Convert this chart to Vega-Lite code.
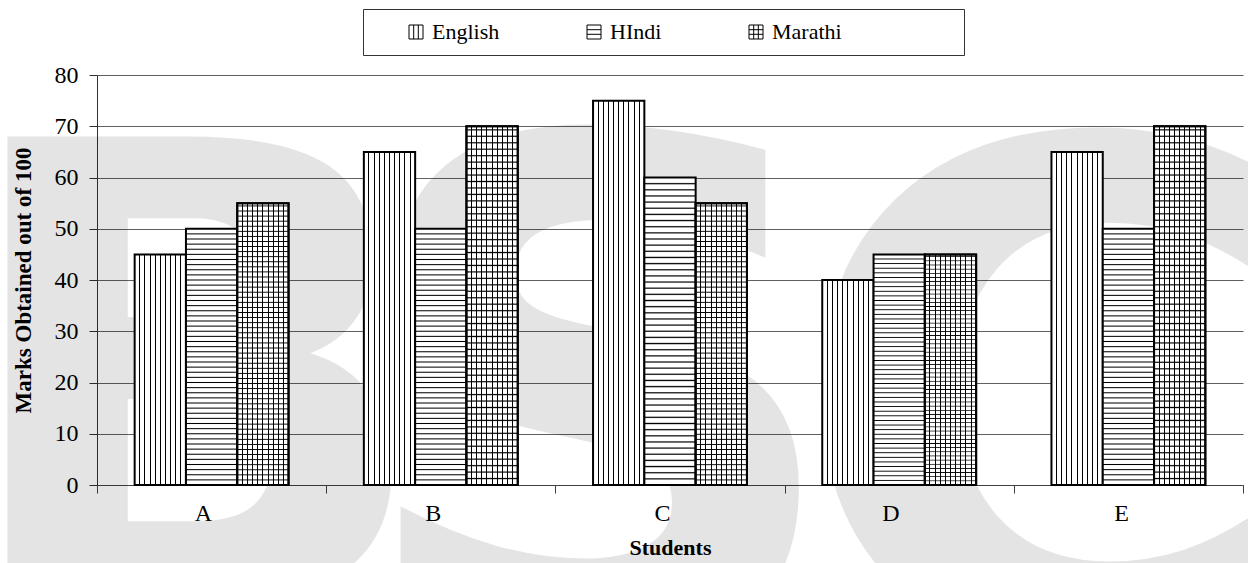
{
  "$schema": "https://vega.github.io/schema/vega-lite/v6.json",
  "autosize": "none",
  "width": 1146,
  "height": 410,
  "padding": {"left": 97, "top": 75, "right": 5, "bottom": 78},
  "background": "white",
  "config": {
    "font": "Liberation Serif",
    "view": {"stroke": null},
    "axis": {"labelFont": "Liberation Serif", "titleFont": "Liberation Serif", "labelColor": "#000", "titleColor": "#000"},
    "legend": {"labelFont": "Liberation Serif", "titleFont": "Liberation Serif"}
  },
  "data": {
    "values": [
      {"Student": "A", "Subject": "English", "Marks": 45},
      {"Student": "A", "Subject": "HIndi", "Marks": 50},
      {"Student": "A", "Subject": "Marathi", "Marks": 55},
      {"Student": "B", "Subject": "English", "Marks": 65},
      {"Student": "B", "Subject": "HIndi", "Marks": 50},
      {"Student": "B", "Subject": "Marathi", "Marks": 70},
      {"Student": "C", "Subject": "English", "Marks": 75},
      {"Student": "C", "Subject": "HIndi", "Marks": 60},
      {"Student": "C", "Subject": "Marathi", "Marks": 55},
      {"Student": "D", "Subject": "English", "Marks": 40},
      {"Student": "D", "Subject": "HIndi", "Marks": 45},
      {"Student": "D", "Subject": "Marathi", "Marks": 45},
      {"Student": "E", "Subject": "English", "Marks": 65},
      {"Student": "E", "Subject": "HIndi", "Marks": 50},
      {"Student": "E", "Subject": "Marathi", "Marks": 70}
    ]
  },
  "layer": [
    {
      "data": {"values": [{}]},
      "mark": {"type": "text", "text": "B", "font": "DejaVu Sans", "fontWeight": "bold", "fontSize": 640, "color": "#000", "opacity": 0.1, "align": "center", "baseline": "alphabetic", "dx": -19, "dy": 118},
      "encoding": {"x": {"datum": "A"}, "y": {"datum": 0}}
    },
    {
      "data": {"values": [{}]},
      "mark": {"type": "text", "text": "S", "font": "DejaVu Sans", "fontWeight": "bold", "fontSize": 700, "color": "#000", "opacity": 0.1, "align": "center", "baseline": "alphabetic", "dx": -72, "dy": 159},
      "encoding": {"x": {"datum": "C"}, "y": {"datum": 0}}
    },
    {
      "data": {"values": [{}]},
      "mark": {"type": "text", "text": "C", "font": "DejaVu Sans", "fontWeight": "bold", "fontSize": 700, "color": "#000", "opacity": 0.1, "align": "center", "baseline": "alphabetic", "dx": -85, "dy": 162},
      "encoding": {"x": {"datum": "E"}, "y": {"datum": 0}}
    },
    {
      "mark": {"type": "point", "opacity": 0, "color": "#000"},
      "encoding": {
        "x": {"field": "Student", "type": "nominal"},
        "y": {"field": "Marks", "type": "quantitative"},
        "shape": {
          "field": "Subject", "type": "nominal",
          "scale": {
            "domain": ["English", "HIndi", "Marathi", " "],
            "range": [
              "M-1,-1H1V1H-1Z M-0.33,-1V1 M0.33,-1V1",
              "M-1,-1H1V1H-1Z M-1,-0.33H1 M-1,0.33H1",
              "M-1,-1H1V1H-1Z M-0.33,-1V1 M0.33,-1V1 M-1,-0.33H1 M-1,0.33H1",
              "M0,0"
            ]
          },
          "legend": {
            "orient": "none",
            "legendX": 266,
            "legendY": -66,
            "direction": "horizontal",
            "columns": 4,
            "title": null,
            "padding": 12,
            "strokeColor": "#333",
            "symbolSize": 196,
            "symbolStrokeWidth": 1,
            "symbolStrokeColor": "#000",
            "symbolFillColor": "#fff",
            "symbolOffset": 30,
            "labelFont": "Liberation Serif",
            "labelFontSize": 22,
            "labelColor": "#000",
            "labelOffset": 5,
            "columnPadding": 53
          }
        }
      }
    },
    {
      "transform": [{"filter": "datum.Subject === 'English'"}],
      "mark": {
        "type": "bar", "stroke": "#000", "strokeWidth": 2,
        "fill": {
          "gradient": "linear", "x1": 0, "x2": 1, "y1": 0, "y2": 0,
          "stops": [
            {"offset": 0, "color": "#fff"},
            {"offset": 0.09, "color": "#fff"}, {"offset": 0.09, "color": "#000"}, {"offset": 0.11, "color": "#000"}, {"offset": 0.11, "color": "#fff"},
            {"offset": 0.19, "color": "#fff"}, {"offset": 0.19, "color": "#000"}, {"offset": 0.21, "color": "#000"}, {"offset": 0.21, "color": "#fff"},
            {"offset": 0.29, "color": "#fff"}, {"offset": 0.29, "color": "#000"}, {"offset": 0.31, "color": "#000"}, {"offset": 0.31, "color": "#fff"},
            {"offset": 0.39, "color": "#fff"}, {"offset": 0.39, "color": "#000"}, {"offset": 0.41, "color": "#000"}, {"offset": 0.41, "color": "#fff"},
            {"offset": 0.49, "color": "#fff"}, {"offset": 0.49, "color": "#000"}, {"offset": 0.51, "color": "#000"}, {"offset": 0.51, "color": "#fff"},
            {"offset": 0.59, "color": "#fff"}, {"offset": 0.59, "color": "#000"}, {"offset": 0.61, "color": "#000"}, {"offset": 0.61, "color": "#fff"},
            {"offset": 0.69, "color": "#fff"}, {"offset": 0.69, "color": "#000"}, {"offset": 0.71, "color": "#000"}, {"offset": 0.71, "color": "#fff"},
            {"offset": 0.79, "color": "#fff"}, {"offset": 0.79, "color": "#000"}, {"offset": 0.81, "color": "#000"}, {"offset": 0.81, "color": "#fff"},
            {"offset": 0.89, "color": "#fff"}, {"offset": 0.89, "color": "#000"}, {"offset": 0.91, "color": "#000"}, {"offset": 0.91, "color": "#fff"},
            {"offset": 1, "color": "#fff"}
          ]
        }
      },
      "encoding": {
        "x": {
          "field": "Student", "type": "nominal",
          "scale": {"domain": ["A", "B", "C", "D", "E"], "paddingInner": 0, "paddingOuter": 0},
          "axis": {
            "title": "Students", "titleFont": "Liberation Serif", "titleFontSize": 22, "titleFontWeight": "bold", "titlePadding": 12,
            "labelAngle": 0, "labelFont": "Liberation Serif", "labelFontSize": 24, "labelPadding": 20,
            "tickBand": "extent", "tickSize": 8, "tickColor": "#404040", "domainColor": "#404040", "grid": false
          }
        },
        "xOffset": {"field": "Subject", "type": "nominal", "scale": {"domain": ["English", "HIndi", "Marathi"], "paddingInner": 0, "paddingOuter": 0.734}},
        "y": {
          "field": "Marks", "type": "quantitative",
          "scale": {"domain": [0, 80], "nice": false},
          "axis": {
            "title": "Marks Obtained out of 100", "titleFont": "Liberation Serif", "titleFontSize": 23, "titleFontWeight": "bold", "titlePadding": 19,
            "values": [0, 10, 20, 30, 40, 50, 60, 70, 80],
            "labelFont": "Liberation Serif", "labelFontSize": 24, "labelPadding": 11, "tickSize": 8, "tickColor": "#303030", "domainColor": "#303030",
            "grid": true, "gridColor": "#606060", "gridWidth": 1
          }
        }
      }
    },
    {
      "transform": [{"filter": "datum.Subject === 'HIndi'"}],
      "mark": {
        "type": "bar", "stroke": "#000", "strokeWidth": 2,
        "fill": {
          "gradient": "linear", "x1": 0, "x2": 0, "y1": 1, "y2": 0,
          "stops": [
            {"offset": 0, "color": "#fff"},
            {"offset": 0.016, "color": "#fff"}, {"offset": 0.02, "color": "#000"}, {"offset": 0.024, "color": "#fff"},
            {"offset": 0.036, "color": "#fff"}, {"offset": 0.04, "color": "#000"}, {"offset": 0.044, "color": "#fff"},
            {"offset": 0.056, "color": "#fff"}, {"offset": 0.06, "color": "#000"}, {"offset": 0.064, "color": "#fff"},
            {"offset": 0.076, "color": "#fff"}, {"offset": 0.08, "color": "#000"}, {"offset": 0.084, "color": "#fff"},
            {"offset": 0.096, "color": "#fff"}, {"offset": 0.1, "color": "#000"}, {"offset": 0.104, "color": "#fff"},
            {"offset": 0.116, "color": "#fff"}, {"offset": 0.12, "color": "#000"}, {"offset": 0.124, "color": "#fff"},
            {"offset": 0.136, "color": "#fff"}, {"offset": 0.14, "color": "#000"}, {"offset": 0.144, "color": "#fff"},
            {"offset": 0.156, "color": "#fff"}, {"offset": 0.16, "color": "#000"}, {"offset": 0.164, "color": "#fff"},
            {"offset": 0.176, "color": "#fff"}, {"offset": 0.18, "color": "#000"}, {"offset": 0.184, "color": "#fff"},
            {"offset": 0.196, "color": "#fff"}, {"offset": 0.2, "color": "#000"}, {"offset": 0.204, "color": "#fff"},
            {"offset": 0.216, "color": "#fff"}, {"offset": 0.22, "color": "#000"}, {"offset": 0.224, "color": "#fff"},
            {"offset": 0.236, "color": "#fff"}, {"offset": 0.24, "color": "#000"}, {"offset": 0.244, "color": "#fff"},
            {"offset": 0.256, "color": "#fff"}, {"offset": 0.26, "color": "#000"}, {"offset": 0.264, "color": "#fff"},
            {"offset": 0.276, "color": "#fff"}, {"offset": 0.28, "color": "#000"}, {"offset": 0.284, "color": "#fff"},
            {"offset": 0.296, "color": "#fff"}, {"offset": 0.3, "color": "#000"}, {"offset": 0.304, "color": "#fff"},
            {"offset": 0.316, "color": "#fff"}, {"offset": 0.32, "color": "#000"}, {"offset": 0.324, "color": "#fff"},
            {"offset": 0.336, "color": "#fff"}, {"offset": 0.34, "color": "#000"}, {"offset": 0.344, "color": "#fff"},
            {"offset": 0.356, "color": "#fff"}, {"offset": 0.36, "color": "#000"}, {"offset": 0.364, "color": "#fff"},
            {"offset": 0.376, "color": "#fff"}, {"offset": 0.38, "color": "#000"}, {"offset": 0.384, "color": "#fff"},
            {"offset": 0.396, "color": "#fff"}, {"offset": 0.4, "color": "#000"}, {"offset": 0.404, "color": "#fff"},
            {"offset": 0.416, "color": "#fff"}, {"offset": 0.42, "color": "#000"}, {"offset": 0.424, "color": "#fff"},
            {"offset": 0.436, "color": "#fff"}, {"offset": 0.44, "color": "#000"}, {"offset": 0.444, "color": "#fff"},
            {"offset": 0.456, "color": "#fff"}, {"offset": 0.46, "color": "#000"}, {"offset": 0.464, "color": "#fff"},
            {"offset": 0.476, "color": "#fff"}, {"offset": 0.48, "color": "#000"}, {"offset": 0.484, "color": "#fff"},
            {"offset": 0.496, "color": "#fff"}, {"offset": 0.5, "color": "#000"}, {"offset": 0.504, "color": "#fff"},
            {"offset": 0.516, "color": "#fff"}, {"offset": 0.52, "color": "#000"}, {"offset": 0.524, "color": "#fff"},
            {"offset": 0.536, "color": "#fff"}, {"offset": 0.54, "color": "#000"}, {"offset": 0.544, "color": "#fff"},
            {"offset": 0.556, "color": "#fff"}, {"offset": 0.56, "color": "#000"}, {"offset": 0.564, "color": "#fff"},
            {"offset": 0.576, "color": "#fff"}, {"offset": 0.58, "color": "#000"}, {"offset": 0.584, "color": "#fff"},
            {"offset": 0.596, "color": "#fff"}, {"offset": 0.6, "color": "#000"}, {"offset": 0.604, "color": "#fff"},
            {"offset": 0.616, "color": "#fff"}, {"offset": 0.62, "color": "#000"}, {"offset": 0.624, "color": "#fff"},
            {"offset": 0.636, "color": "#fff"}, {"offset": 0.64, "color": "#000"}, {"offset": 0.644, "color": "#fff"},
            {"offset": 0.656, "color": "#fff"}, {"offset": 0.66, "color": "#000"}, {"offset": 0.664, "color": "#fff"},
            {"offset": 0.676, "color": "#fff"}, {"offset": 0.68, "color": "#000"}, {"offset": 0.684, "color": "#fff"},
            {"offset": 0.696, "color": "#fff"}, {"offset": 0.7, "color": "#000"}, {"offset": 0.704, "color": "#fff"},
            {"offset": 0.716, "color": "#fff"}, {"offset": 0.72, "color": "#000"}, {"offset": 0.724, "color": "#fff"},
            {"offset": 0.736, "color": "#fff"}, {"offset": 0.74, "color": "#000"}, {"offset": 0.744, "color": "#fff"},
            {"offset": 0.756, "color": "#fff"}, {"offset": 0.76, "color": "#000"}, {"offset": 0.764, "color": "#fff"},
            {"offset": 0.776, "color": "#fff"}, {"offset": 0.78, "color": "#000"}, {"offset": 0.784, "color": "#fff"},
            {"offset": 0.796, "color": "#fff"}, {"offset": 0.8, "color": "#000"}, {"offset": 0.804, "color": "#fff"},
            {"offset": 0.816, "color": "#fff"}, {"offset": 0.82, "color": "#000"}, {"offset": 0.824, "color": "#fff"},
            {"offset": 0.836, "color": "#fff"}, {"offset": 0.84, "color": "#000"}, {"offset": 0.844, "color": "#fff"},
            {"offset": 0.856, "color": "#fff"}, {"offset": 0.86, "color": "#000"}, {"offset": 0.864, "color": "#fff"},
            {"offset": 0.876, "color": "#fff"}, {"offset": 0.88, "color": "#000"}, {"offset": 0.884, "color": "#fff"},
            {"offset": 0.896, "color": "#fff"}, {"offset": 0.9, "color": "#000"}, {"offset": 0.904, "color": "#fff"},
            {"offset": 0.916, "color": "#fff"}, {"offset": 0.92, "color": "#000"}, {"offset": 0.924, "color": "#fff"},
            {"offset": 0.936, "color": "#fff"}, {"offset": 0.94, "color": "#000"}, {"offset": 0.944, "color": "#fff"},
            {"offset": 0.956, "color": "#fff"}, {"offset": 0.96, "color": "#000"}, {"offset": 0.964, "color": "#fff"},
            {"offset": 0.976, "color": "#fff"}, {"offset": 0.98, "color": "#000"}, {"offset": 0.984, "color": "#fff"},
            {"offset": 1, "color": "#fff"}
          ]
        }
      },
      "encoding": {
        "x": {"field": "Student", "type": "nominal"},
        "xOffset": {"field": "Subject", "type": "nominal"},
        "y": {"field": "Marks", "type": "quantitative"}
      }
    },
    {
      "transform": [{"filter": "datum.Subject === 'Marathi'"}],
      "mark": {
        "type": "bar", "stroke": "#000", "strokeWidth": 2,
        "fill": {
          "gradient": "linear", "x1": 0, "x2": 1, "y1": 0, "y2": 0,
          "stops": [
            {"offset": 0, "color": "#fff"},
            {"offset": 0.09, "color": "#fff"}, {"offset": 0.09, "color": "#000"}, {"offset": 0.11, "color": "#000"}, {"offset": 0.11, "color": "#fff"},
            {"offset": 0.19, "color": "#fff"}, {"offset": 0.19, "color": "#000"}, {"offset": 0.21, "color": "#000"}, {"offset": 0.21, "color": "#fff"},
            {"offset": 0.29, "color": "#fff"}, {"offset": 0.29, "color": "#000"}, {"offset": 0.31, "color": "#000"}, {"offset": 0.31, "color": "#fff"},
            {"offset": 0.39, "color": "#fff"}, {"offset": 0.39, "color": "#000"}, {"offset": 0.41, "color": "#000"}, {"offset": 0.41, "color": "#fff"},
            {"offset": 0.49, "color": "#fff"}, {"offset": 0.49, "color": "#000"}, {"offset": 0.51, "color": "#000"}, {"offset": 0.51, "color": "#fff"},
            {"offset": 0.59, "color": "#fff"}, {"offset": 0.59, "color": "#000"}, {"offset": 0.61, "color": "#000"}, {"offset": 0.61, "color": "#fff"},
            {"offset": 0.69, "color": "#fff"}, {"offset": 0.69, "color": "#000"}, {"offset": 0.71, "color": "#000"}, {"offset": 0.71, "color": "#fff"},
            {"offset": 0.79, "color": "#fff"}, {"offset": 0.79, "color": "#000"}, {"offset": 0.81, "color": "#000"}, {"offset": 0.81, "color": "#fff"},
            {"offset": 0.89, "color": "#fff"}, {"offset": 0.89, "color": "#000"}, {"offset": 0.91, "color": "#000"}, {"offset": 0.91, "color": "#fff"},
            {"offset": 1, "color": "#fff"}
          ]
        }
      },
      "encoding": {
        "x": {"field": "Student", "type": "nominal"},
        "xOffset": {"field": "Subject", "type": "nominal"},
        "y": {"field": "Marks", "type": "quantitative"}
      }
    },
    {
      "transform": [{"filter": "datum.Subject === 'Marathi'"}],
      "mark": {
        "type": "bar", "stroke": "#000", "strokeWidth": 2,
        "fill": {
          "gradient": "linear", "x1": 0, "x2": 0, "y1": 1, "y2": 0,
          "stops": [
            {"offset": 0, "color": "rgba(0,0,0,0)"},
            {"offset": 0.0147, "color": "rgba(0,0,0,0)"}, {"offset": 0.018, "color": "#000"}, {"offset": 0.0213, "color": "rgba(0,0,0,0)"},
            {"offset": 0.0327, "color": "rgba(0,0,0,0)"}, {"offset": 0.036, "color": "#000"}, {"offset": 0.0393, "color": "rgba(0,0,0,0)"},
            {"offset": 0.0507, "color": "rgba(0,0,0,0)"}, {"offset": 0.054, "color": "#000"}, {"offset": 0.0573, "color": "rgba(0,0,0,0)"},
            {"offset": 0.0687, "color": "rgba(0,0,0,0)"}, {"offset": 0.072, "color": "#000"}, {"offset": 0.0753, "color": "rgba(0,0,0,0)"},
            {"offset": 0.0867, "color": "rgba(0,0,0,0)"}, {"offset": 0.09, "color": "#000"}, {"offset": 0.0933, "color": "rgba(0,0,0,0)"},
            {"offset": 0.1047, "color": "rgba(0,0,0,0)"}, {"offset": 0.108, "color": "#000"}, {"offset": 0.1113, "color": "rgba(0,0,0,0)"},
            {"offset": 0.1227, "color": "rgba(0,0,0,0)"}, {"offset": 0.126, "color": "#000"}, {"offset": 0.1293, "color": "rgba(0,0,0,0)"},
            {"offset": 0.1407, "color": "rgba(0,0,0,0)"}, {"offset": 0.144, "color": "#000"}, {"offset": 0.1473, "color": "rgba(0,0,0,0)"},
            {"offset": 0.1587, "color": "rgba(0,0,0,0)"}, {"offset": 0.162, "color": "#000"}, {"offset": 0.1653, "color": "rgba(0,0,0,0)"},
            {"offset": 0.1767, "color": "rgba(0,0,0,0)"}, {"offset": 0.18, "color": "#000"}, {"offset": 0.1833, "color": "rgba(0,0,0,0)"},
            {"offset": 0.1947, "color": "rgba(0,0,0,0)"}, {"offset": 0.198, "color": "#000"}, {"offset": 0.2013, "color": "rgba(0,0,0,0)"},
            {"offset": 0.2127, "color": "rgba(0,0,0,0)"}, {"offset": 0.216, "color": "#000"}, {"offset": 0.2193, "color": "rgba(0,0,0,0)"},
            {"offset": 0.2307, "color": "rgba(0,0,0,0)"}, {"offset": 0.234, "color": "#000"}, {"offset": 0.2373, "color": "rgba(0,0,0,0)"},
            {"offset": 0.2487, "color": "rgba(0,0,0,0)"}, {"offset": 0.252, "color": "#000"}, {"offset": 0.2553, "color": "rgba(0,0,0,0)"},
            {"offset": 0.2667, "color": "rgba(0,0,0,0)"}, {"offset": 0.27, "color": "#000"}, {"offset": 0.2733, "color": "rgba(0,0,0,0)"},
            {"offset": 0.2847, "color": "rgba(0,0,0,0)"}, {"offset": 0.288, "color": "#000"}, {"offset": 0.2913, "color": "rgba(0,0,0,0)"},
            {"offset": 0.3027, "color": "rgba(0,0,0,0)"}, {"offset": 0.306, "color": "#000"}, {"offset": 0.3093, "color": "rgba(0,0,0,0)"},
            {"offset": 0.3207, "color": "rgba(0,0,0,0)"}, {"offset": 0.324, "color": "#000"}, {"offset": 0.3273, "color": "rgba(0,0,0,0)"},
            {"offset": 0.3387, "color": "rgba(0,0,0,0)"}, {"offset": 0.342, "color": "#000"}, {"offset": 0.3453, "color": "rgba(0,0,0,0)"},
            {"offset": 0.3567, "color": "rgba(0,0,0,0)"}, {"offset": 0.36, "color": "#000"}, {"offset": 0.3633, "color": "rgba(0,0,0,0)"},
            {"offset": 0.3747, "color": "rgba(0,0,0,0)"}, {"offset": 0.378, "color": "#000"}, {"offset": 0.3813, "color": "rgba(0,0,0,0)"},
            {"offset": 0.3927, "color": "rgba(0,0,0,0)"}, {"offset": 0.396, "color": "#000"}, {"offset": 0.3993, "color": "rgba(0,0,0,0)"},
            {"offset": 0.4107, "color": "rgba(0,0,0,0)"}, {"offset": 0.414, "color": "#000"}, {"offset": 0.4173, "color": "rgba(0,0,0,0)"},
            {"offset": 0.4287, "color": "rgba(0,0,0,0)"}, {"offset": 0.432, "color": "#000"}, {"offset": 0.4353, "color": "rgba(0,0,0,0)"},
            {"offset": 0.4467, "color": "rgba(0,0,0,0)"}, {"offset": 0.45, "color": "#000"}, {"offset": 0.4533, "color": "rgba(0,0,0,0)"},
            {"offset": 0.4647, "color": "rgba(0,0,0,0)"}, {"offset": 0.468, "color": "#000"}, {"offset": 0.4713, "color": "rgba(0,0,0,0)"},
            {"offset": 0.4827, "color": "rgba(0,0,0,0)"}, {"offset": 0.486, "color": "#000"}, {"offset": 0.4893, "color": "rgba(0,0,0,0)"},
            {"offset": 0.5007, "color": "rgba(0,0,0,0)"}, {"offset": 0.504, "color": "#000"}, {"offset": 0.5073, "color": "rgba(0,0,0,0)"},
            {"offset": 0.5187, "color": "rgba(0,0,0,0)"}, {"offset": 0.522, "color": "#000"}, {"offset": 0.5253, "color": "rgba(0,0,0,0)"},
            {"offset": 0.5367, "color": "rgba(0,0,0,0)"}, {"offset": 0.54, "color": "#000"}, {"offset": 0.5433, "color": "rgba(0,0,0,0)"},
            {"offset": 0.5547, "color": "rgba(0,0,0,0)"}, {"offset": 0.558, "color": "#000"}, {"offset": 0.5613, "color": "rgba(0,0,0,0)"},
            {"offset": 0.5727, "color": "rgba(0,0,0,0)"}, {"offset": 0.576, "color": "#000"}, {"offset": 0.5793, "color": "rgba(0,0,0,0)"},
            {"offset": 0.5907, "color": "rgba(0,0,0,0)"}, {"offset": 0.594, "color": "#000"}, {"offset": 0.5973, "color": "rgba(0,0,0,0)"},
            {"offset": 0.6087, "color": "rgba(0,0,0,0)"}, {"offset": 0.612, "color": "#000"}, {"offset": 0.6153, "color": "rgba(0,0,0,0)"},
            {"offset": 0.6267, "color": "rgba(0,0,0,0)"}, {"offset": 0.63, "color": "#000"}, {"offset": 0.6333, "color": "rgba(0,0,0,0)"},
            {"offset": 0.6447, "color": "rgba(0,0,0,0)"}, {"offset": 0.648, "color": "#000"}, {"offset": 0.6513, "color": "rgba(0,0,0,0)"},
            {"offset": 0.6627, "color": "rgba(0,0,0,0)"}, {"offset": 0.666, "color": "#000"}, {"offset": 0.6693, "color": "rgba(0,0,0,0)"},
            {"offset": 0.6807, "color": "rgba(0,0,0,0)"}, {"offset": 0.684, "color": "#000"}, {"offset": 0.6873, "color": "rgba(0,0,0,0)"},
            {"offset": 0.6987, "color": "rgba(0,0,0,0)"}, {"offset": 0.702, "color": "#000"}, {"offset": 0.7053, "color": "rgba(0,0,0,0)"},
            {"offset": 0.7167, "color": "rgba(0,0,0,0)"}, {"offset": 0.72, "color": "#000"}, {"offset": 0.7233, "color": "rgba(0,0,0,0)"},
            {"offset": 0.7347, "color": "rgba(0,0,0,0)"}, {"offset": 0.738, "color": "#000"}, {"offset": 0.7413, "color": "rgba(0,0,0,0)"},
            {"offset": 0.7527, "color": "rgba(0,0,0,0)"}, {"offset": 0.756, "color": "#000"}, {"offset": 0.7593, "color": "rgba(0,0,0,0)"},
            {"offset": 0.7707, "color": "rgba(0,0,0,0)"}, {"offset": 0.774, "color": "#000"}, {"offset": 0.7773, "color": "rgba(0,0,0,0)"},
            {"offset": 0.7887, "color": "rgba(0,0,0,0)"}, {"offset": 0.792, "color": "#000"}, {"offset": 0.7953, "color": "rgba(0,0,0,0)"},
            {"offset": 0.8067, "color": "rgba(0,0,0,0)"}, {"offset": 0.81, "color": "#000"}, {"offset": 0.8133, "color": "rgba(0,0,0,0)"},
            {"offset": 0.8247, "color": "rgba(0,0,0,0)"}, {"offset": 0.828, "color": "#000"}, {"offset": 0.8313, "color": "rgba(0,0,0,0)"},
            {"offset": 0.8427, "color": "rgba(0,0,0,0)"}, {"offset": 0.846, "color": "#000"}, {"offset": 0.8493, "color": "rgba(0,0,0,0)"},
            {"offset": 0.8607, "color": "rgba(0,0,0,0)"}, {"offset": 0.864, "color": "#000"}, {"offset": 0.8673, "color": "rgba(0,0,0,0)"},
            {"offset": 0.8787, "color": "rgba(0,0,0,0)"}, {"offset": 0.882, "color": "#000"}, {"offset": 0.8853, "color": "rgba(0,0,0,0)"},
            {"offset": 0.8967, "color": "rgba(0,0,0,0)"}, {"offset": 0.9, "color": "#000"}, {"offset": 0.9033, "color": "rgba(0,0,0,0)"},
            {"offset": 0.9147, "color": "rgba(0,0,0,0)"}, {"offset": 0.918, "color": "#000"}, {"offset": 0.9213, "color": "rgba(0,0,0,0)"},
            {"offset": 0.9327, "color": "rgba(0,0,0,0)"}, {"offset": 0.936, "color": "#000"}, {"offset": 0.9393, "color": "rgba(0,0,0,0)"},
            {"offset": 0.9507, "color": "rgba(0,0,0,0)"}, {"offset": 0.954, "color": "#000"}, {"offset": 0.9573, "color": "rgba(0,0,0,0)"},
            {"offset": 0.9687, "color": "rgba(0,0,0,0)"}, {"offset": 0.972, "color": "#000"}, {"offset": 0.9753, "color": "rgba(0,0,0,0)"},
            {"offset": 0.9867, "color": "rgba(0,0,0,0)"}, {"offset": 0.99, "color": "#000"}, {"offset": 0.9933, "color": "rgba(0,0,0,0)"},
            {"offset": 1, "color": "rgba(0,0,0,0)"}
          ]
        }
      },
      "encoding": {
        "x": {"field": "Student", "type": "nominal"},
        "xOffset": {"field": "Subject", "type": "nominal"},
        "y": {"field": "Marks", "type": "quantitative"}
      }
    }
  ]
}
